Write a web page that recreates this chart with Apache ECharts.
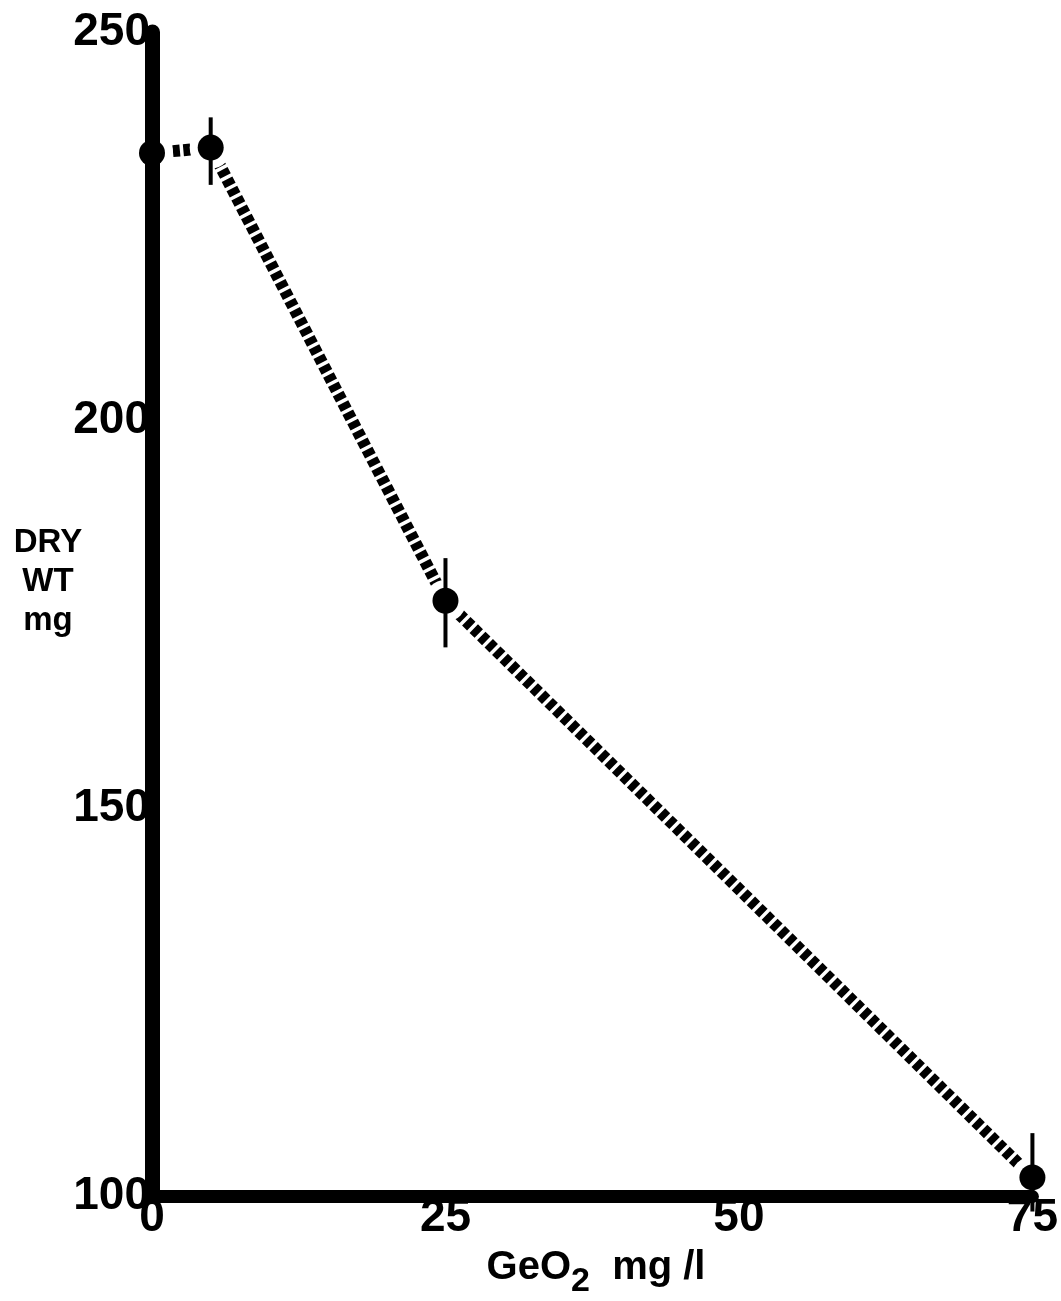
<!DOCTYPE html>
<html>
<head>
<meta charset="utf-8">
<script src="https://cdn.jsdelivr.net/npm/echarts@6/dist/echarts.min.js"></script>
<style>
html,body{margin:0;padding:0;background:#fff;}
#chart{width:1061px;height:1301px;}
</style>
</head>
<body>
<div id="chart"></div>
<script>
// Data
var geo2 = [0, 5, 25, 75];                 // GeO2 mg/l
var dryWt = [234.4, 235.1, 176.7, 102.4];  // mean dry weight, mg
var errLow = [230.0, 230.3, 170.7, 98.0];  // lower end of error bar
var errHigh = [237.8, 239.0, 182.2, 108.1];// upper end of error bar
var xTicks = [0, 25, 50, 75];
var yTicks = [100, 150, 200, 250];

var FONT = '"Liberation Sans", Arial, sans-serif';

var points = geo2.map(function (x, i) { return [x, dryWt[i]]; });
var bars = geo2.map(function (x, i) { return [x, errLow[i], errHigh[i]]; });

var chart = echarts.init(document.getElementById('chart'));
chart.setOption({
  animation: false,
  backgroundColor: '#ffffff',
  grid: { left: 152, right: 28, top: 32, bottom: 105, containLabel: false },
  xAxis: {
    type: 'value', min: xTicks[0], max: xTicks[xTicks.length - 1], interval: 25,
    z: 6,
    axisLine: { show: true, lineStyle: { color: '#000', width: 13 } },
    axisTick: { show: false },
    splitLine: { show: false },
    axisLabel: {
      margin: -1, color: '#000', fontSize: 46, fontWeight: 'bold', fontFamily: FONT,
      customValues: xTicks
    }
  },
  yAxis: {
    type: 'value', min: yTicks[0], max: yTicks[yTicks.length - 1], interval: 50,
    z: 6,
    axisLine: { show: true, lineStyle: { color: '#000', width: 15 } },
    axisTick: { show: false },
    splitLine: { show: false },
    axisLabel: {
      margin: 2, color: '#000', fontSize: 46, fontWeight: 'bold', fontFamily: FONT,
      customValues: yTicks
    }
  },
  graphic: [
    {
      type: 'text', x: 48, y: 582, z: 10,
      style: {
        text: 'DRY\nWT\nmg', fill: '#000', align: 'center', verticalAlign: 'middle',
        font: 'bold 33px "Liberation Sans", Arial, sans-serif', lineHeight: 39
      }
    },
    {
      type: 'text', x: 596, y: 1268, z: 10,
      style: {
        text: '{a|GeO}{s|2}{a|  mg /l}', fill: '#000', align: 'center', verticalAlign: 'middle',
        rich: {
          a: { fontSize: 40, fontWeight: 'bold', fontFamily: FONT, fill: '#000', lineHeight: 44 },
          s: { fontSize: 34, fontWeight: 'bold', fontFamily: FONT, fill: '#000', padding: [28, 0, 0, 0], lineHeight: 44 }
        }
      }
    }
  ],
  series: [
    {
      type: 'line', data: points, z: 2,
      symbol: 'none',
      lineStyle: { color: '#000', width: 12, type: [7, 3.5], cap: 'butt', opacity: 1 }
    },
    {
      type: 'scatter', data: points, z: 3,
      symbol: 'circle', symbolSize: 42,
      itemStyle: { color: '#fff', opacity: 1 },
      emphasis: { disabled: true },
      silent: true
    },
    {
      type: 'custom', z: 4, clip: false,
      data: bars,
      renderItem: function (params, api) {
        var top = api.coord([api.value(0), api.value(2)]);
        var bot = api.coord([api.value(0), api.value(1)]);
        return {
          type: 'line',
          shape: { x1: top[0], y1: top[1], x2: bot[0], y2: bot[1] },
          style: { stroke: '#000', lineWidth: 4 }
        };
      }
    },
    {
      type: 'scatter', data: points, z: 5,
      symbol: 'circle', symbolSize: 26,
      itemStyle: { color: '#000', opacity: 1 },
      emphasis: { disabled: true }
    }
  ]
});
</script>
</body>
</html>
